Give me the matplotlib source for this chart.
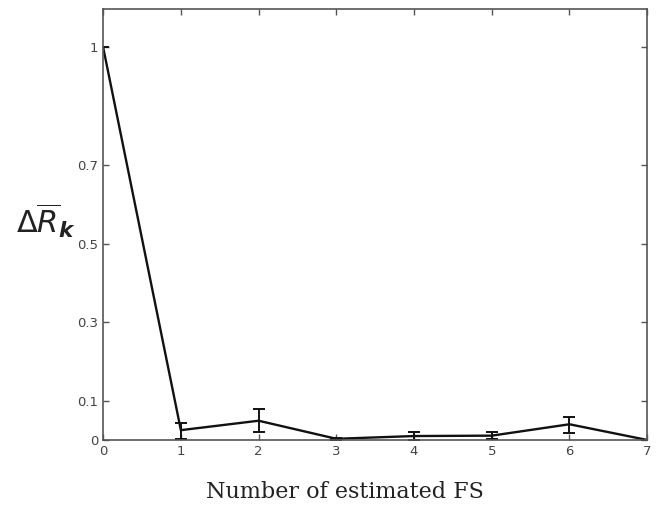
import matplotlib
matplotlib.use("Agg")
import matplotlib.pyplot as plt

plt.rcParams["mathtext.default"] = "regular"

x = [0, 1, 2, 3, 4, 5, 6, 7]
y = [1.0, 0.025, 0.049, 0.003, 0.010, 0.011, 0.040, 0.0]
err_low = [0.0, 0.023, 0.029, 0.002, 0.009, 0.009, 0.021, 0.0]
err_high = [0.0, 0.017, 0.030, 0.002, 0.010, 0.010, 0.018, 0.0]
yticks = [0, 0.1, 0.3, 0.5, 0.7, 1]
ytick_labels = ["0", "0.1", "0.3", "0.5", "0.7", "1"]
xticks = [0, 1, 2, 3, 4, 5, 6, 7]

fig = plt.figure(figsize=(6.57, 5.11), dpi=100)
ax = fig.add_axes([0.157, 0.139, 0.828, 0.843])

ax.errorbar(x, y, yerr=[err_low, err_high], color="#111111", lw=1.7,
            capsize=4, elinewidth=1.4, capthick=1.4)

ax.set_xlim(0, 7)
ax.set_ylim(0, 1.097)
ax.set_xticks(xticks)
ax.set_yticks(yticks)
ax.set_yticklabels(ytick_labels)
ax.tick_params(direction="in", length=4, width=1, top=True, right=True,
               labelsize=9.5, labelcolor="#444444", color="#555555")
for s in ax.spines.values():
    s.set_color("#555555")
    s.set_linewidth(1.2)

fig.text(345 / 657, 1 - 492 / 511, "Number of estimated FS", family="DejaVu Serif",
         fontsize=16, color="#222222", ha="center", va="center")
ax.text(-0.105, 0.51, r"$\Delta\overline{\mathit{R}}_{\mathbfit{k}}$", transform=ax.transAxes,
        fontsize=22, ha="center", va="center", color="#222222")

fig.savefig("out.png", dpi=100)
